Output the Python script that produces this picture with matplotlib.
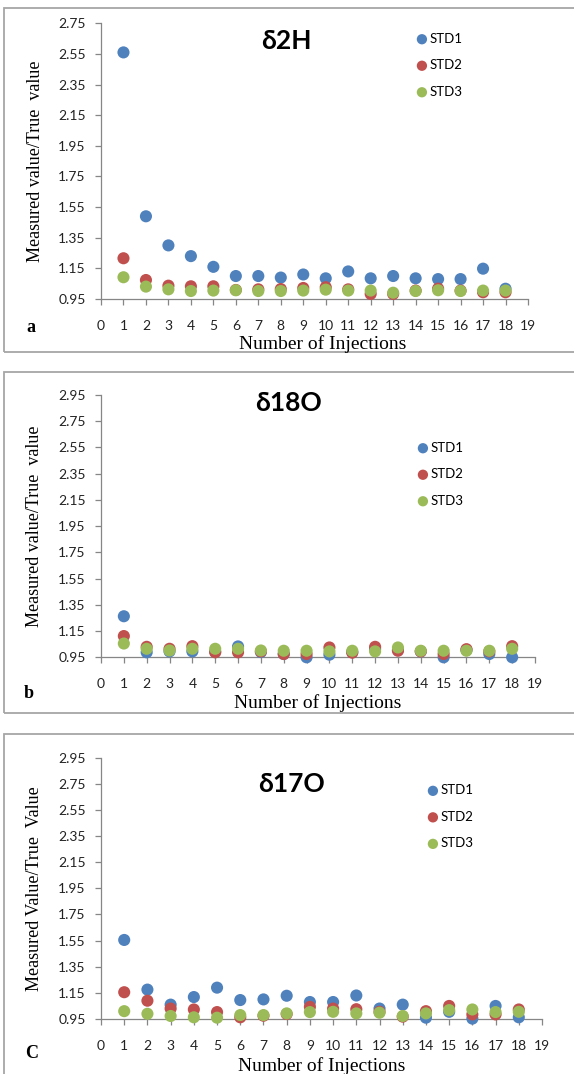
import matplotlib
matplotlib.use("Agg")
import matplotlib.pyplot as plt
from matplotlib.patches import Rectangle

W, H = 574, 1074

injections = list(range(1, 19))

# panel a: delta 2H
h2_std1 = [2.56, 1.49, 1.30, 1.23, 1.16, 1.10, 1.10, 1.09, 1.11, 1.085, 1.13, 1.085, 1.10, 1.085, 1.08, 1.08, 1.148, 1.017]
h2_std2 = [1.216, 1.074, 1.037, 1.033, 1.033, 1.009, 1.013, 1.015, 1.022, 1.027, 1.013, 0.983, 0.983, 1.005, 1.018, 1.005, 0.994, 0.994]
h2_std3 = [1.092, 1.031, 1.013, 1.002, 1.005, 1.007, 1.002, 1.002, 1.005, 1.011, 1.005, 1.005, 0.991, 1.002, 1.007, 1.002, 1.005, 1.005]

# panel b: delta 18O
o18_std1 = [1.263, 0.988, 0.995, 0.995, 0.993, 1.033, 0.99, 0.975, 0.95, 0.97, 0.99, 1.015, 1.005, 0.995, 0.95, 1.005, 0.975, 0.95]
o18_std2 = [1.112, 1.03, 1.015, 1.035, 0.988, 0.988, 0.995, 0.975, 0.975, 1.025, 0.985, 1.03, 1.0, 0.995, 0.975, 1.012, 0.995, 1.035]
o18_std3 = [1.055, 1.015, 1.002, 1.015, 1.015, 1.015, 1.002, 1.0, 1.0, 0.995, 1.0, 0.995, 1.025, 1.0, 1.0, 1.0, 1.0, 1.015]

# panel c: delta 17O
o17_std1 = [1.555, 1.175, 1.06, 1.118, 1.19, 1.095, 1.10, 1.128, 1.08, 1.08, 1.13, 1.03, 1.06, 0.96, 1.005, 0.953, 1.05, 0.963]
o17_std2 = [1.155, 1.09, 1.03, 1.023, 1.003, 0.963, 0.975, 0.988, 1.043, 1.03, 1.025, 1.005, 0.968, 1.01, 1.05, 0.985, 0.985, 1.023]
o17_std3 = [1.01, 0.99, 0.973, 0.963, 0.96, 0.98, 0.98, 0.993, 1.003, 1.005, 0.993, 0.998, 0.973, 0.993, 1.018, 1.023, 1.003, 1.005]

series_names = ["STD1", "STD2", "STD3"]
colors = ["#4F81BD", "#C0504D", "#9BBB59"]
xticks = list(range(0, 20))

panels = [
    dict(title="δ2H", letter="a", ylabel="Measured value/True  value",
         yticks=[0.95, 1.15, 1.35, 1.55, 1.75, 1.95, 2.15, 2.35, 2.55, 2.75],
         data=[h2_std1, h2_std2, h2_std3],
         box=(101, 528, 299, 23.3), frame=(8.3, 351.7),
         title_xy=(286, 41), leg_xy=(424, 41.7), letter_xy=(31, 328),
         ylab_x=36, xlab_xy=(323, 344)),
    dict(title="δ18O", letter="b", ylabel="Measured value/True  value",
         yticks=[0.95, 1.15, 1.35, 1.55, 1.75, 1.95, 2.15, 2.35, 2.55, 2.75, 2.95],
         data=[o18_std1, o18_std2, o18_std3],
         box=(101, 535, 657.3, 395), frame=(371.7, 713.3),
         title_xy=(288, 402.7), leg_xy=(425, 450.7), letter_xy=(29, 693),
         ylab_x=35, xlab_xy=(318, 703)),
    dict(title="δ17O", letter="C", ylabel="Measured Value/True  Value",
         yticks=[0.95, 1.15, 1.35, 1.55, 1.75, 1.95, 2.15, 2.35, 2.55, 2.75, 2.95],
         data=[o17_std1, o17_std2, o17_std3],
         box=(101, 542, 1019, 757.7), frame=(734.3, 1090),
         title_xy=(291, 784.3), leg_xy=(435, 793.3), letter_xy=(32, 1053),
         ylab_x=35, xlab_xy=(322, 1066)),
]

serif = "Liberation Serif"
sans = "Lato"
gray = "#868686"

fig = plt.figure(figsize=(W / 100, H / 100), dpi=100)
fig.patch.set_facecolor("white")


def fx(x):
    return x / W


def fy(y):
    return 1 - y / H


for p in panels:
    # outer frame round each panel
    top, bot = p["frame"]
    fig.patches.append(Rectangle((fx(4.4), fy(bot)), fx(600), (bot - top) / H,
                                 transform=fig.transFigure, fill=False,
                                 edgecolor="#A6A6A6", linewidth=1.3))

    x0, x19, yb, yt = p["box"]
    ax = fig.add_axes([fx(x0), fy(yb), (x19 - x0) / W, (yb - yt) / H])
    for vals, name, c in zip(p["data"], series_names, colors):
        ax.scatter(injections, vals, s=76, color=c, edgecolors="none",
                   label=name, clip_on=False, zorder=3)
    ax.set_xlim(0, 19)
    ax.set_ylim(p["yticks"][0], p["yticks"][-1])
    ax.set_xticks(xticks)
    ax.set_yticks(p["yticks"])
    ax.set_yticklabels(["%.2f" % v for v in p["yticks"]])
    for side in ["top", "right"]:
        ax.spines[side].set_visible(False)
    for side in ["left", "bottom"]:
        ax.spines[side].set_color(gray)
        ax.spines[side].set_linewidth(0.9)
    ax.tick_params(axis="both", direction="out", length=4, width=0.9, color=gray,
                   labelsize=10, labelcolor="#222222")
    ax.tick_params(axis="x", pad=11)
    ax.tick_params(axis="y", pad=7)
    for lab in ax.get_xticklabels() + ax.get_yticklabels():
        lab.set_fontfamily(sans)

    tx, ty = p["title_xy"]
    fig.text(fx(tx), fy(ty), p["title"], ha="center", va="center",
             fontsize=19, fontweight="bold", family=sans)

    lx, ly = p["leg_xy"]
    ax.legend(loc="upper left", bbox_to_anchor=(fx(lx - 10), fy(ly - 9)),
              bbox_transform=fig.transFigure, frameon=False,
              prop={"family": sans, "size": 9.5}, handletextpad=0.0,
              labelspacing=1.1, borderpad=0, borderaxespad=0,
              scatterpoints=1, markerscale=0.85, handlelength=1.2)

    fig.text(fx(p["ylab_x"]), fy((yb + yt) / 2), p["ylabel"], rotation=90,
             ha="center", va="center", fontsize=13, family=serif)
    xlx, xly = p["xlab_xy"]
    fig.text(fx(xlx), fy(xly), "Number of Injections",
             ha="center", va="center", fontsize=14, family=serif)

    lx2, ly2 = p["letter_xy"]
    fig.text(fx(lx2), fy(ly2), p["letter"], ha="center", va="center",
             fontsize=13, fontweight="bold", family=serif)

fig.savefig("out.png", dpi=100, facecolor="white")
